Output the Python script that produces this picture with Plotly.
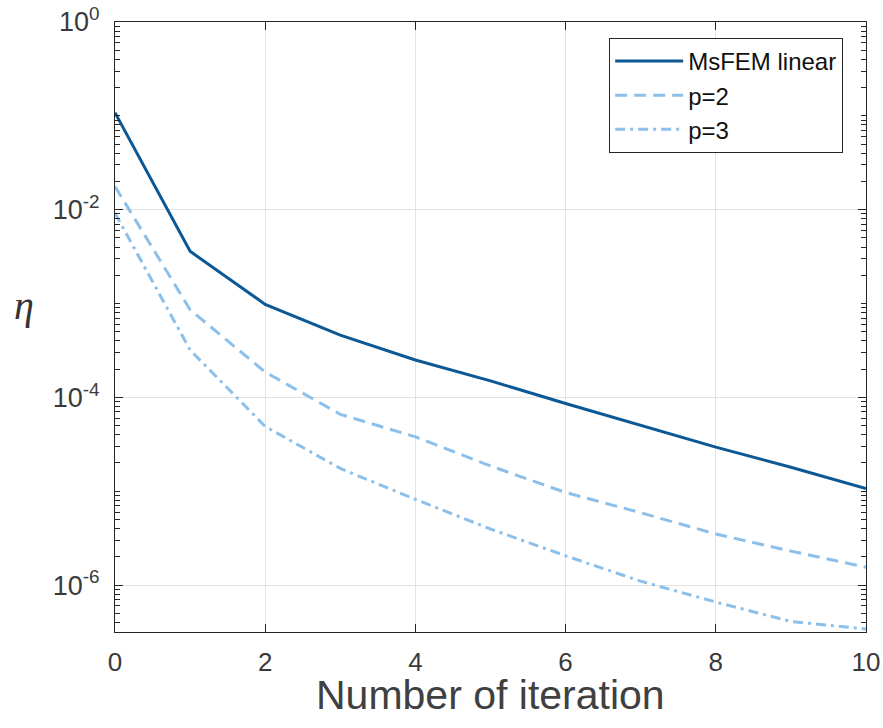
import plotly.graph_objects as go

# Convergence history of the iterative solver
iterations = [0, 1, 2, 3, 4, 5, 6, 7, 8, 9, 10]
msfem_linear = [0.108, 3.6e-3, 9.8e-4, 4.6e-4, 2.5e-4, 1.5e-4, 8.6e-5, 5.0e-5, 2.95e-5, 1.8e-5, 1.07e-5]
p2_values = [1.77e-2, 8.6e-4, 1.86e-4, 6.6e-5, 3.8e-5, 1.86e-5, 9.7e-6, 5.9e-6, 3.5e-6, 2.3e-6, 1.55e-6]
p3_values = [9.2e-3, 3.2e-4, 4.9e-5, 1.75e-5, 8.2e-6, 3.96e-6, 2.05e-6, 1.1e-6, 6.6e-7, 4.1e-7, 3.4e-7]

x_ticks = [0, 2, 4, 6, 8, 10]
y_ticks = [1, 1e-2, 1e-4, 1e-6]
y_tick_text = ["10<sup>0</sup>", "10<sup>-2</sup>", "10<sup>-4</sup>", "10<sup>-6</sup>"]

dark_blue = "#0c5894"
light_blue = "#8cc0ea"
axis_color = "#262626"
label_color = "#3a3a3a"
grid_color = "#e3e3e3"
font_family = "Liberation Sans, Arial, Helvetica, sans-serif"

fig = go.Figure()
fig.add_trace(go.Scatter(x=iterations, y=msfem_linear, mode="lines", name="MsFEM linear",
                         line=dict(color=dark_blue, width=3)))
fig.add_trace(go.Scatter(x=iterations, y=p2_values, mode="lines", name="p=2",
                         line=dict(color=light_blue, width=3, dash="12px,7px")))
fig.add_trace(go.Scatter(x=iterations, y=p3_values, mode="lines", name="p=3",
                         line=dict(color=light_blue, width=3, dash="10px,5px,3px,5px")))

fig.update_layout(
    width=883, height=728,
    margin=dict(l=115, r=17, t=22, b=96),
    paper_bgcolor="white", plot_bgcolor="white",
    font=dict(family=font_family, size=26, color=label_color),
    showlegend=True,
    legend=dict(
        x=0.658, y=0.974, xanchor="left", yanchor="top",
        bgcolor="white", bordercolor=axis_color, borderwidth=1,
        font=dict(size=24, color="#111111"),
        itemwidth=68, tracegroupgap=0,
    ),
    xaxis=dict(
        range=[0, 10], tickvals=x_ticks, ticktext=[str(v) for v in x_ticks],
        automargin=False,
        showgrid=True, gridcolor=grid_color, gridwidth=1, zeroline=False,
        showline=True, linecolor=axis_color, linewidth=1, mirror="ticks",
        ticks="inside", ticklen=8, tickcolor=axis_color, tickwidth=1,
        ticklabelstandoff=7, tickfont=dict(size=26, color=label_color),
    ),
    yaxis=dict(
        type="log", range=[-6.5, 0], tickvals=y_ticks, ticktext=y_tick_text,
        automargin=False,
        showgrid=True, gridcolor=grid_color, gridwidth=1, zeroline=False,
        showline=True, linecolor=axis_color, linewidth=1, mirror="ticks",
        ticks="inside", ticklen=8, tickcolor=axis_color, tickwidth=1,
        ticklabelstandoff=9, tickfont=dict(size=27, color=label_color),
        minor=dict(ticks="inside", ticklen=5, tickcolor=axis_color, dtick="D1", showgrid=False),
    ),
    annotations=[
        # x-axis title
        dict(text="Number of iteration", xref="paper", yref="paper", x=0.5, y=-0.104,
             xanchor="center", yanchor="middle", showarrow=False,
             font=dict(family=font_family, size=41, color="#404040")),
        # y-axis symbol
        dict(text="<i>η</i>", xref="paper", yref="paper", x=-0.137, y=0.535,
             showarrow=False,
             font=dict(family="Liberation Serif, Times New Roman, serif", size=40, color="#333333")),
    ],
)

fig.write_html("out.html")
